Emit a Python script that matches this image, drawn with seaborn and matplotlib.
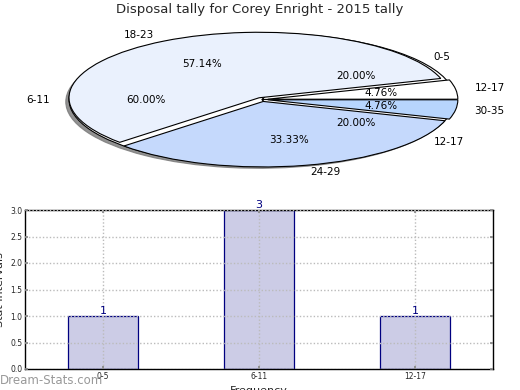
import matplotlib
matplotlib.use("Agg")
import matplotlib.pyplot as plt
import seaborn as sns
import pandas as pd

# Data
season_labels = ["12-17", "18-23", "24-29", "30-35"]
season_counts = [1, 12, 7, 1]
season_colors = ["#ffffff", "#eaf1fd", "#c5d9fc", "#b7d5fd"]

recent_labels = ["0-5", "6-11", "12-17"]
recent_counts = [1, 3, 1]
recent_colors = ["#ffffff", "#ffffff", "#ffffff"]

bar_categories = ["0-5", "6-11", "12-17"]
bar_values = [1, 3, 1]

title = "Disposal tally for Corey Enright - 2015 tally"

sns.set_theme(style="white")
plt.rcParams["font.family"] = ["DejaVu Sans"]

fig = plt.figure(figsize=(5.2, 3.9), dpi=100)

# Pie axes (stretched ellipse)
axp = fig.add_axes([69 / 520, (390 - 166) / 390, 386 / 520, 133 / 390])
wp = dict(edgecolor="black", linewidth=0.8)
axp.pie(recent_counts, labels=recent_labels, colors=recent_colors, autopct="%.2f%%",
        startangle=0, shadow=dict(ox=-0.012, oy=-0.025, color="#777777", alpha=0.8),
        wedgeprops=wp, textprops=dict(fontsize=7.5, color="black"))
axp.pie(season_counts, labels=season_labels, colors=season_colors, autopct="%.2f%%",
        startangle=0, radius=0.985, explode=[0.03] * 4, shadow=False, wedgeprops=wp,
        textprops=dict(fontsize=7.5, color="black"))
axp.set_aspect("auto")
axp.set_xlim(-1.0, 1.0)
axp.set_ylim(-1.0, 1.0)
fig.text(0.5, 1 - 10 / 390, title, ha="center", va="center", fontsize=9.5)

# Bar axes
axb = fig.add_axes([25 / 520, (390 - 369) / 390, 468 / 520, 159 / 390])
df = pd.DataFrame({"cat": bar_categories, "val": bar_values})
sns.barplot(data=df, x="cat", y="val", ax=axb, color="#ccccE6", saturation=1,
            edgecolor="#000080", linewidth=0.9, width=0.45)
for p, v in zip(axb.patches, bar_values):
    axb.text(p.get_x() + p.get_width() / 2, p.get_height(), str(v), ha="center",
             va="bottom", fontsize=8, color="#000080")
axb.set_xlim(-0.5, 2.5)
axb.set_ylim(0, 3)
axb.set_yticks([0, 0.5, 1, 1.5, 2, 2.5, 3])
axb.set_yticklabels(["0.0", "0.5", "1.0", "1.5", "2.0", "2.5", "3.0"])
axb.tick_params(axis="both", labelsize=5.5, direction="in", length=2, pad=2,
                color="#888888", top=True, right=True, bottom=True, left=True)
axb.set_axisbelow(False)
axb.grid(True, linestyle=(0, (1, 1.5)), color="#bbbbbb", linewidth=1.0)
for s in axb.spines.values():
    s.set_color("black")
    s.set_linewidth(1)
axb.set_xlabel("Frequency", fontsize=8, labelpad=4)
axb.set_ylabel("Stat Intervals", fontsize=8, labelpad=4)

fig.text(0.0, 10 / 390, "Dream-Stats.com", ha="left", va="center", fontsize=8.5,
         color="#999999")

fig.savefig("out.png", dpi=100)
